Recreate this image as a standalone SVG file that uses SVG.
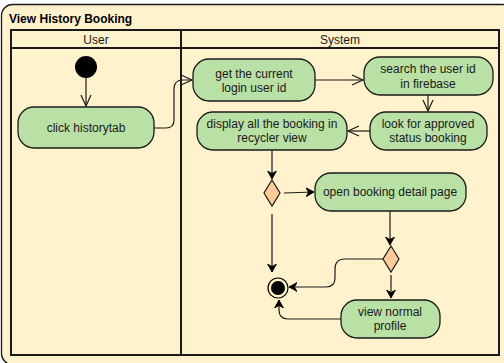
<svg xmlns="http://www.w3.org/2000/svg" width="504" height="363" viewBox="0 0 504 363">
  <style>
    .frame { fill: #FFF2CC; stroke: #1a1a1a; stroke-width: 1.3; }
    .pool { fill: none; stroke: #1a1a1a; stroke-width: 2; }
    .action { fill: #B9E0A5; stroke: #1a1a1a; stroke-width: 1.3; }
    .decision { fill: #FFCC99; stroke: #1a1a1a; stroke-width: 1.2; }
    .label { font-family: "Liberation Sans", Arial, sans-serif; font-size: 12px; fill: #1a1a1a; text-anchor: middle; }
    .title { font-family: "Liberation Sans", Arial, sans-serif; font-size: 12px; font-weight: bold; fill: #000; }
    .flow { fill: none; stroke: #1a1a1a; stroke-width: 1.2; }
    .open { marker-end: url(#openArrow); }
    .solid { marker-end: url(#solidArrow); }
  </style>
  <defs>
    <marker id="openArrow" markerWidth="14" markerHeight="12" refX="12" refY="6" orient="auto" markerUnits="userSpaceOnUse">
      <path d="M1,1 L12,6 L1,11" fill="none" stroke="#1a1a1a" stroke-width="1.2"/>
    </marker>
    <marker id="solidArrow" markerWidth="10" markerHeight="10" refX="8" refY="5" orient="auto" markerUnits="userSpaceOnUse">
      <path d="M0,0.5 L8,5 L0,9.5 L2.5,5 Z" fill="#000" stroke="#000" stroke-width="0.8"/>
    </marker>
  </defs>

  <rect width="504" height="363" fill="#ffffff"/>

  <!-- outer frame -->
  <rect class="frame" x="1.5" y="4.5" width="512" height="360" rx="11"/>
  <text class="title" x="9" y="23">View History Booking</text>

  <!-- pool with two lanes -->
  <g id="pool">
    <rect class="pool" x="11" y="30" width="488" height="325"/>
    <line class="pool" x1="11" y1="48" x2="499" y2="48"/>
    <line class="pool" x1="181" y1="30" x2="181" y2="355"/>
    <text class="label" x="96" y="44">User</text>
    <text class="label" x="340" y="44">System</text>
  </g>

  <!-- connectors -->
  <g id="connectors">
    <path class="flow open" d="M86,78 L86,106"/>
    <path class="flow open" d="M154,128 L166,128 Q174,128 174,120 L174,89 Q174,80 183,80 L192,80"/>
    <path class="flow open" d="M315,80 L363,80"/>
    <path class="flow open" d="M428,95 L428,111"/>
    <path class="flow open" d="M370,131 L348,131"/>
    <path class="flow solid" d="M272,150 L272,179"/>
    <path class="flow solid" d="M284,193 L314,192"/>
    <path class="flow solid" d="M390,211 L390,245"/>
    <path class="flow solid" d="M272,214 L272,272"/>
    <path class="flow solid" d="M383,259 L345,259 Q335,259 335,269 L335,278 Q335,287 326,287 L289,287"/>
    <path class="flow solid" d="M391,275 L391,298"/>
    <path class="flow solid" d="M341,319 L288,319 Q279,319 279,310 L279,300"/>
  </g>

  <!-- start node -->
  <g id="start">
    <circle cx="86" cy="67" r="11" fill="#000"/>
  </g>

  <g id="click-historytab">
    <rect class="action" x="18" y="107" width="136" height="41" rx="16"/>
    <text class="label" x="86" y="132">click historytab</text>
  </g>

  <g id="get-current-user">
    <rect class="action" x="193" y="59" width="122" height="42" rx="16"/>
    <text class="label" x="254" y="78">get the current</text>
    <text class="label" x="254" y="92">login user id</text>
  </g>

  <g id="search-user-id">
    <rect class="action" x="364" y="57" width="129" height="38" rx="16"/>
    <text class="label" x="428" y="73">search the user id</text>
    <text class="label" x="428" y="88">in firebase</text>
  </g>

  <g id="look-approved">
    <rect class="action" x="370" y="112" width="117" height="38" rx="16"/>
    <text class="label" x="428" y="128">look for approved</text>
    <text class="label" x="428" y="142">status booking</text>
  </g>

  <g id="display-bookings">
    <rect class="action" x="197" y="112" width="150" height="38" rx="16"/>
    <text class="label" x="272" y="128">display all the booking in</text>
    <text class="label" x="272" y="142">recycler view</text>
  </g>

  <g id="decision-1">
    <polygon class="decision" points="272,180 280,193 272,206 264,193"/>
  </g>

  <g id="open-booking-detail">
    <rect class="action" x="315" y="173" width="151" height="38" rx="16"/>
    <text class="label" x="390" y="196">open booking detail page</text>
  </g>

  <g id="decision-2">
    <polygon class="decision" points="391,246 399,259 391,272 383,259"/>
  </g>

  <g id="view-normal-profile">
    <rect class="action" x="341" y="300" width="99" height="38" rx="16"/>
    <text class="label" x="390" y="316">view normal</text>
    <text class="label" x="390" y="330">profile</text>
  </g>

  <!-- final node -->
  <g id="end">
    <circle cx="278" cy="288" r="10" fill="#FFF2CC" stroke="#000" stroke-width="1.2"/>
    <circle cx="278" cy="288" r="7" fill="#000"/>
  </g>
</svg>
